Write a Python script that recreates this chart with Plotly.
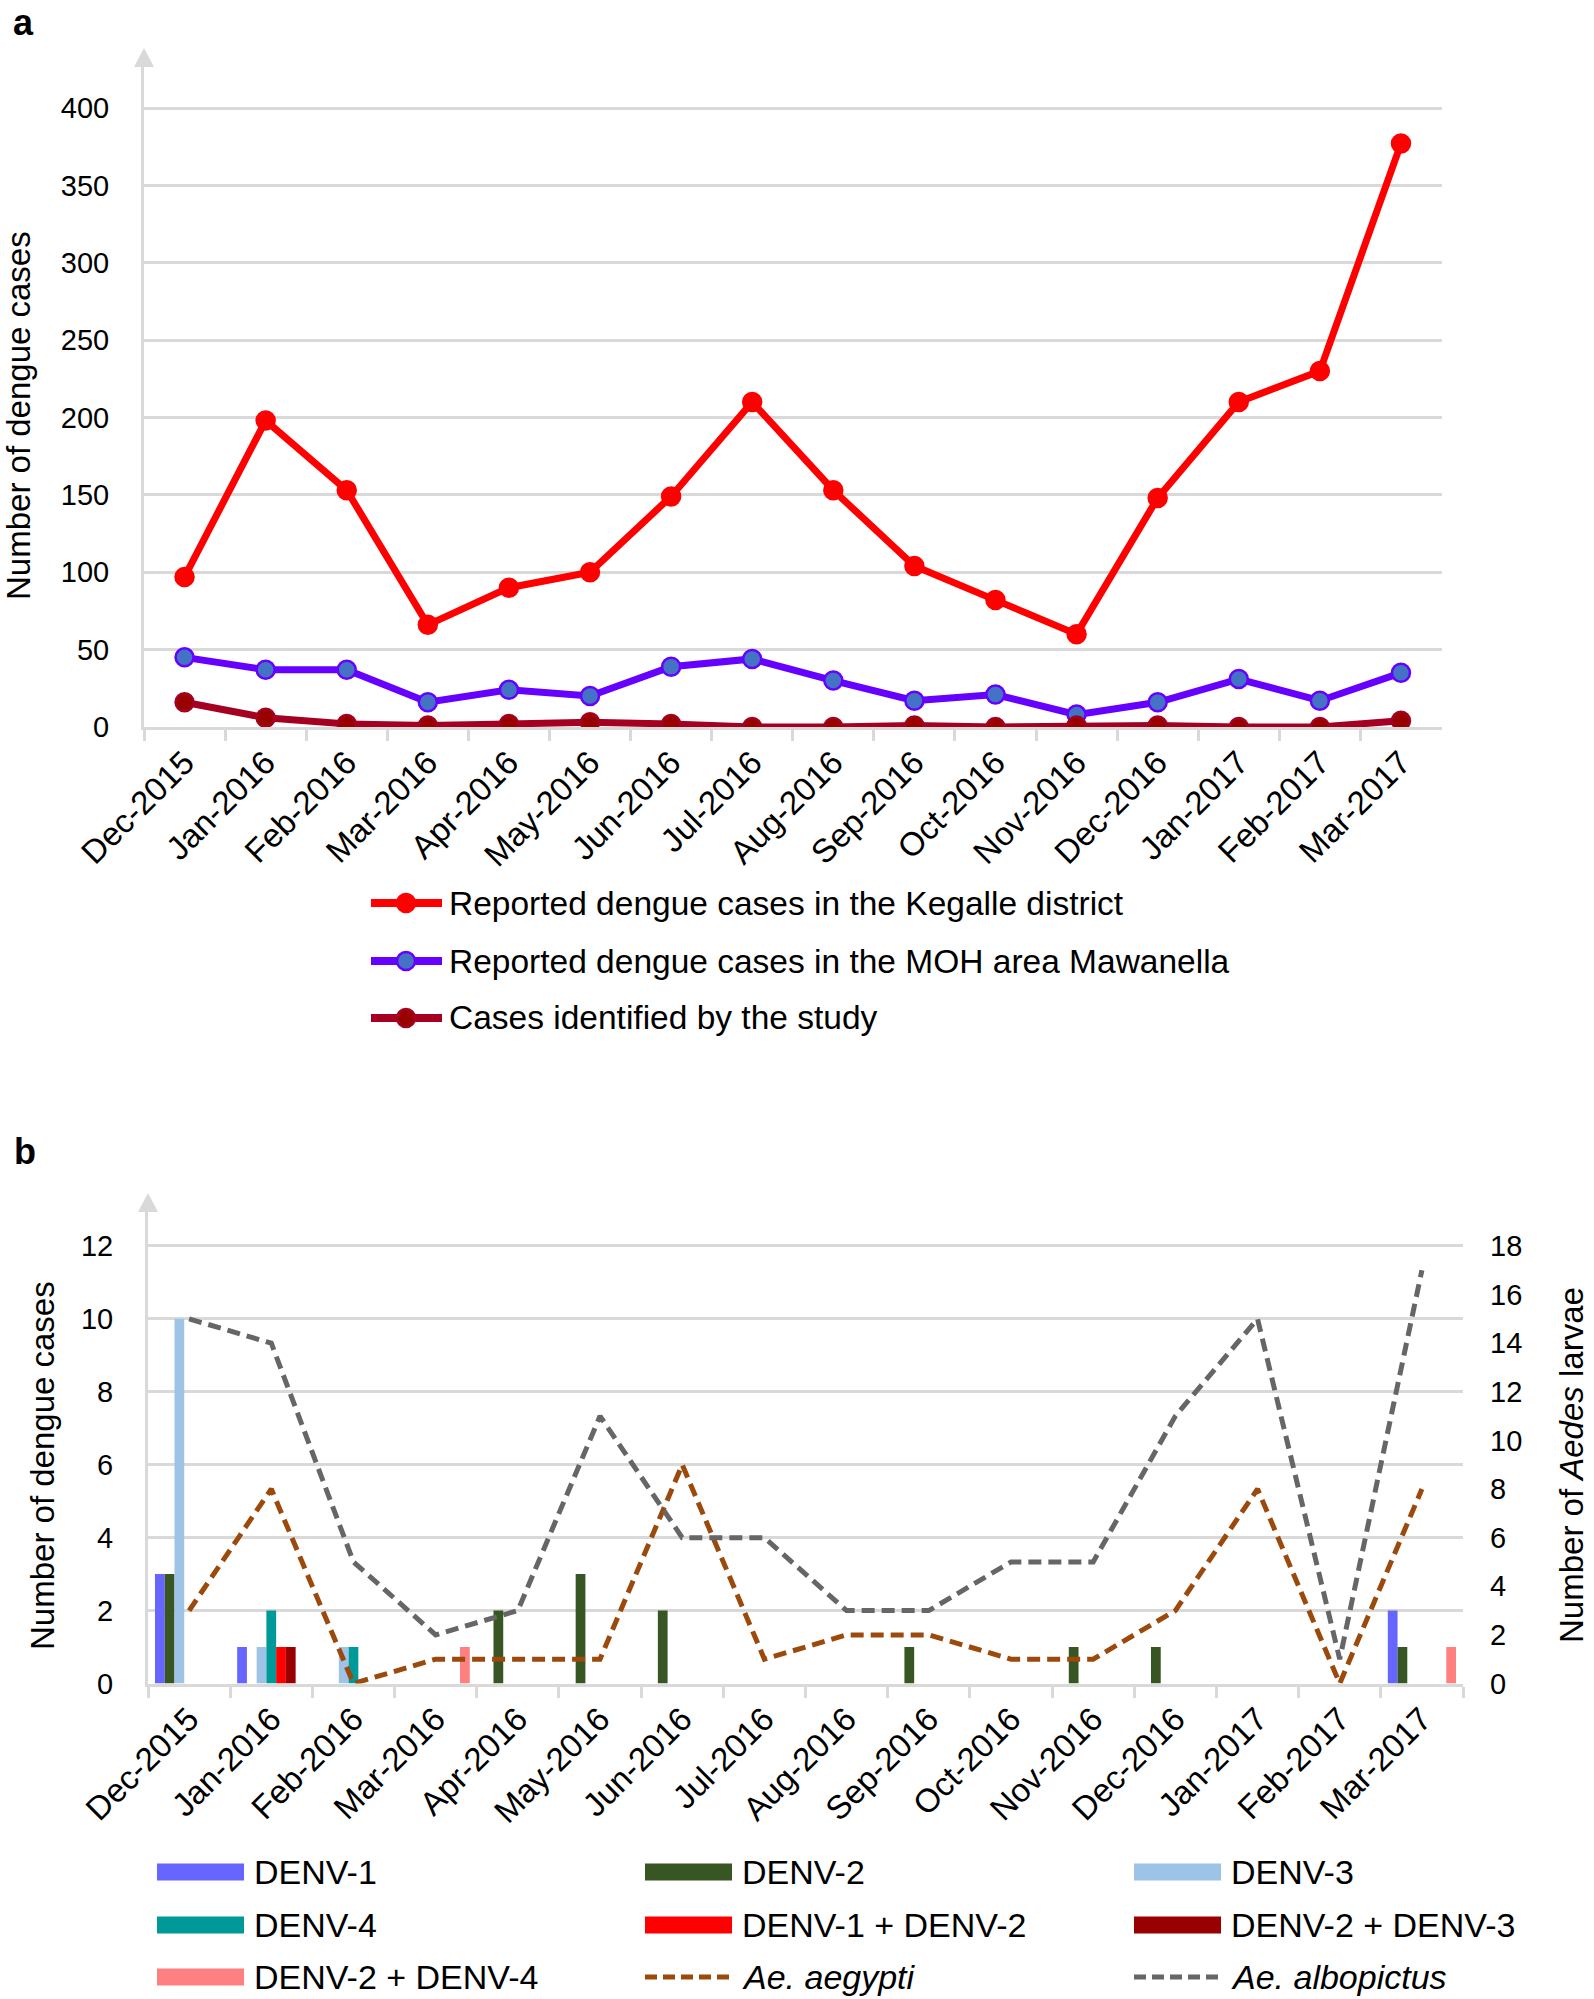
import plotly.graph_objects as go

W, H = 1594, 1999

months = ["Dec-2015", "Jan-2016", "Feb-2016", "Mar-2016", "Apr-2016", "May-2016",
          "Jun-2016", "Jul-2016", "Aug-2016", "Sep-2016", "Oct-2016", "Nov-2016",
          "Dec-2016", "Jan-2017", "Feb-2017", "Mar-2017"]

# panel a
kegalle = [97, 198, 153, 66, 90, 100, 149, 210, 153, 104, 82, 60, 148, 210, 230, 377]
mawanella = [45, 37, 37, 16, 24, 20, 39, 44, 30, 17, 21, 8, 16, 31, 17, 35]
study = [16, 6, 2, 1, 2, 3, 2, 0, 0, 1, 0, 1, 1, 0, 0, 4]

# panel b - serotypes
denv1 = [3, 1, 0, 0, 0, 0, 0, 0, 0, 0, 0, 0, 0, 0, 0, 2]
denv2 = [3, 0, 0, 0, 2, 3, 2, 0, 0, 1, 0, 1, 1, 0, 0, 1]
denv3 = [10, 1, 1, 0, 0, 0, 0, 0, 0, 0, 0, 0, 0, 0, 0, 0]
denv4 = [0, 2, 1, 0, 0, 0, 0, 0, 0, 0, 0, 0, 0, 0, 0, 0]
denv1_2 = [0, 1, 0, 0, 0, 0, 0, 0, 0, 0, 0, 0, 0, 0, 0, 0]
denv2_3 = [0, 1, 0, 0, 0, 0, 0, 0, 0, 0, 0, 0, 0, 0, 0, 0]
denv2_4 = [0, 0, 0, 1, 0, 0, 0, 0, 0, 0, 0, 0, 0, 0, 0, 1]

# panel b - larvae
aegypti = [3, 8, 0, 1, 1, 1, 9, 1, 2, 2, 1, 1, 3, 8, 0, 8]
albopictus = [15, 14, 5, 2, 3, 11, 6, 6, 3, 3, 5, 5, 11, 15, 1, 17]

FONT = "Arial, Liberation Sans, sans-serif"
GRID = "#d9d9d9"


def px(x):
    return x / W


def py(y):
    return 1 - y / H


fig = go.Figure()

# ---- panel a lines
a_series = [
    ("Reported dengue cases in the Kegalle district", kegalle, "#ff0000", "#ff0000", "#ff0000"),
    ("Reported dengue cases in the MOH area Mawanella", mawanella, "#6600ff", "#4472c4", "#6600ff"),
    ("Cases identified by the study", study, "#a50021", "#990000", "#a50021"),
]
for name, vals, lc, mc, ml in a_series:
    fig.add_trace(go.Scatter(
        x=months, y=vals, name=name, mode="lines+markers",
        line=dict(color=lc, width=7),
        marker=dict(size=18, color=mc, line=dict(color=ml, width=2.5)),
        xaxis="x", yaxis="y", showlegend=False))

# ---- panel b bars
b_bars = [
    ("DENV-1", denv1, "#6666ff"),
    ("DENV-2", denv2, "#375623"),
    ("DENV-3", denv3, "#9dc3e6"),
    ("DENV-4", denv4, "#009999"),
    ("DENV-1 + DENV-2", denv1_2, "#ff0000"),
    ("DENV-2 + DENV-3", denv2_3, "#990000"),
    ("DENV-2 + DENV-4", denv2_4, "#ff8080"),
]
for name, vals, col in b_bars:
    fig.add_trace(go.Bar(x=months, y=vals, name=name, marker_color=col,
                         marker_line_width=0, xaxis="x2", yaxis="y2",
                         showlegend=False))

b_lines = [
    ("<i>Ae. aegypti</i>", aegypti, "#9c4a0c"),
    ("<i>Ae. albopictus</i>", albopictus, "#666666"),
]
for name, vals, col in b_lines:
    fig.add_trace(go.Scatter(x=months, y=vals, name=name, mode="lines",
                             line=dict(color=col, width=5, dash="13px,7px"),
                             xaxis="x2", yaxis="y3", showlegend=False))

tickfont = dict(family=FONT, size=29, color="black")
xtickfont = dict(family=FONT, size=33, color="black")

xcommon = dict(type="category", range=[-0.5, 15.5], showline=True,
               linecolor=GRID, linewidth=3, showgrid=False, ticks="outside",
               tickson="boundaries", ticklen=11, tickwidth=2.5, tickcolor=GRID,
               tickangle=-45, tickfont=xtickfont, automargin=False)
ycommon = dict(showline=True, linecolor=GRID, linewidth=3, showgrid=True,
               gridcolor=GRID, gridwidth=2.5, zeroline=False, ticks="",
               tickfont=tickfont, ticklabelstandoff=26, automargin=False)

fig.update_layout(
    width=W, height=H,
    margin=dict(l=0, r=0, t=0, b=0, autoexpand=False),
    paper_bgcolor="white", plot_bgcolor="white",
    font=dict(family=FONT, color="black"),
    barmode="group", bargap=0.17, bargroupgap=0,
    xaxis=dict(domain=[px(144), px(1441.5)], anchor="y", **xcommon),
    yaxis=dict(domain=[py(727), py(67)], anchor="x", range=[0, 426.5],
               tickvals=list(range(0, 401, 50)), **ycommon),
    xaxis2=dict(domain=[px(148), px(1463)], anchor="y2", **xcommon),
    yaxis2=dict(domain=[py(1683.5), py(1212)], anchor="x2", range=[0, 12.93],
                tickvals=list(range(0, 13, 2)), **ycommon),
    yaxis3=dict(overlaying="y2", side="right", anchor="x2", range=[0, 19.395],
                tickvals=list(range(0, 19, 2)), showgrid=False, showline=False,
                zeroline=False, ticks="", tickfont=tickfont,
                ticklabelstandoff=26, automargin=False),
)

# axis arrows
for ax_x, apex, base in [(144, 48, 67), (148, 1193, 1212)]:
    fig.add_shape(type="path", xref="paper", yref="paper",
                  path=f"M {px(ax_x)},{py(apex)} L {px(ax_x - 10)},{py(base)} "
                       f"L {px(ax_x + 10)},{py(base)} Z",
                  fillcolor=GRID, line=dict(width=0))

annos = [
    dict(text="<b>a</b>", x=px(23), y=py(23), size=36, angle=0),
    dict(text="<b>b</b>", x=px(25), y=py(1151), size=36, angle=0),
    dict(text="Number of dengue cases", x=px(18), y=py(416), size=33, angle=-90),
    dict(text="Number of dengue cases", x=px(42), y=py(1466), size=33, angle=-90),
    dict(text="Number of <i>Aedes</i> larvae", x=px(1571), y=py(1465), size=33, angle=-90),
]
for a in annos:
    fig.add_annotation(text=a["text"], x=a["x"], y=a["y"], xref="paper", yref="paper",
                       showarrow=False, textangle=a["angle"], xanchor="center",
                       yanchor="middle", font=dict(family=FONT, size=a["size"]))

# legend for panel a (drawn by hand: long line swatch with marker)
for (name, vals, lc, mc, ml), ry in zip(a_series, [903, 961, 1018]):
    fig.add_shape(type="line", xref="paper", yref="paper",
                  x0=px(371), x1=px(442), y0=py(ry), y1=py(ry),
                  line=dict(color=lc, width=8))
    fig.add_shape(type="circle", xref="paper", yref="paper",
                  x0=px(397), x1=px(415), y0=py(ry + 9), y1=py(ry - 9),
                  fillcolor=mc, line=dict(color=ml, width=2.5))
    fig.add_annotation(text=name, x=px(447), y=py(ry), xref="paper", yref="paper",
                       showarrow=False, xanchor="left", yanchor="middle",
                       font=dict(family=FONT, size=33.5))

# legend for panel b: 3 columns x 3 rows
col_x = [157, 645, 1134]
row_y = [1872, 1925, 1977]
entries = [(n, c, "bar") for n, v, c in b_bars] + [(n, c, "line") for n, v, c in b_lines]
for i, (name, col, kind) in enumerate(entries):
    cx, ry = col_x[i % 3], row_y[i // 3]
    if kind == "bar":
        fig.add_shape(type="rect", xref="paper", yref="paper",
                      x0=px(cx), x1=px(cx + 87), y0=py(ry + 8.5), y1=py(ry - 8.5),
                      fillcolor=col, line=dict(width=0))
    else:
        fig.add_shape(type="line", xref="paper", yref="paper",
                      x0=px(cx), x1=px(cx + 87), y0=py(ry), y1=py(ry),
                      line=dict(color=col, width=5, dash="12px,6px"))
    fig.add_annotation(text=name, x=px(cx + 95), y=py(ry), xref="paper", yref="paper",
                       showarrow=False, xanchor="left", yanchor="middle",
                       font=dict(family=FONT, size=34))

fig.write_html("out.html", config={"displayModeBar": False},
               post_script="document.body.style.margin='0px';")
